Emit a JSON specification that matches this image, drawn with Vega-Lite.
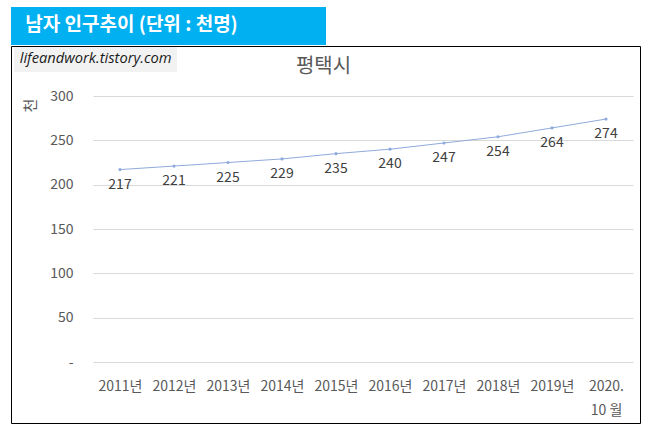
{
  "$schema": "https://vega.github.io/schema/vega-lite/v6.json",
  "padding": {"left": 10, "top": 7, "right": 0, "bottom": 0},
  "background": "white",
  "spacing": 0,
  "config": {"font": "Noto Sans CJK KR", "view": {"stroke": null}, "concat": {"spacing": 0}},
  "vconcat": [
    {
      "width": 315,
      "height": 38,
      "view": {"fill": "#00B0F0", "stroke": null},
      "data": {"values": [{"header": "남자 인구추이 (단위 : 천명)"}]},
      "mark": {"type": "text", "color": "white", "fontSize": 19, "fontWeight": "bold", "align": "center", "baseline": "middle", "dx": -37, "dy": -1},
      "encoding": {"text": {"field": "header"}}
    },
    {
      "width": 629,
      "height": 377,
      "view": {"stroke": "#000000", "strokeWidth": 1},
      "data": {"values": [
        {"label": "2011년", "value": 217},
        {"label": "2012년", "value": 221},
        {"label": "2013년", "value": 225},
        {"label": "2014년", "value": 229},
        {"label": "2015년", "value": 235},
        {"label": "2016년", "value": 240},
        {"label": "2017년", "value": 247},
        {"label": "2018년", "value": 254},
        {"label": "2019년", "value": 264},
        {"label": "2020. 10 월", "value": 274}
      ]},
      "encoding": {
        "x": {
          "field": "label", "type": "nominal", "sort": null,
          "scale": {"range": [82, 622], "paddingInner": 0, "paddingOuter": 0},
          "axis": {"title": "평택시", "titleX": 312, "titleY": -313, "titleAlign": "center", "titleBaseline": "middle", "titleAngle": 0, "titleFontSize": 20, "titleFontWeight": "normal", "titleColor": "#595959",
                   "offset": -44, "domain": false, "ticks": false, "tickSize": 0, "labelPadding": 0, "labelAngle": 0, "labelBaseline": "top", "labelFontSize": 14, "labelColor": "#595959", "labelLineHeight": 24, "labelOverlap": false, "labelExpr": "datum.value == '2020. 10 월' ? ['2020.', '10 월'] : datum.label"}
        },
        "y": {
          "field": "value", "type": "quantitative",
          "scale": {"domain": [0, 300], "range": [316, 50], "nice": false},
          "axis": {"title": "천", "values": [0, 50, 100, 150, 200, 250, 300], "grid": true, "gridColor": "#D9D9D9", "gridWidth": 1, "domain": false, "ticks": false, "tickSize": 0, "labelPadding": 0, "offset": -62, "labelFontSize": 14, "labelColor": "#595959", "labelExpr": "datum.value == 0 ? '-' : datum.label", "titleX": -43, "titleY": 59, "titleAngle": -90, "titleAlign": "center", "titleBaseline": "middle", "titleFontSize": 15, "titleFontWeight": "normal", "titleColor": "#595959"}
        }
      },
      "layer": [
        {
          "mark": {"type": "line", "strokeWidth": 1},
          "encoding": {
            "color": {
              "datum": "lifeandwork.tistory.com",
              "scale": {"range": ["#8FAADC"]},
              "legend": {"orient": "none", "legendX": 3, "legendY": 40, "title": null, "fillColor": "#F2F2F2", "padding": 5, "symbolSize": 1, "symbolOpacity": 0, "symbolStrokeWidth": 0, "labelOffset": -14, "labelFontSize": 14.7, "labelFontStyle": "italic", "labelFont": "Open Sans", "labelColor": "#1A1A1A", "labelLimit": 300}
            }
          }
        },
        {"mark": {"type": "point", "filled": true, "size": 10, "color": "#8FAADC", "opacity": 1}},
        {"mark": {"type": "text", "dy": 15, "fontSize": 14, "color": "#404040", "baseline": "middle"}, "encoding": {"text": {"field": "value"}}}
      ]
    }
  ]
}
